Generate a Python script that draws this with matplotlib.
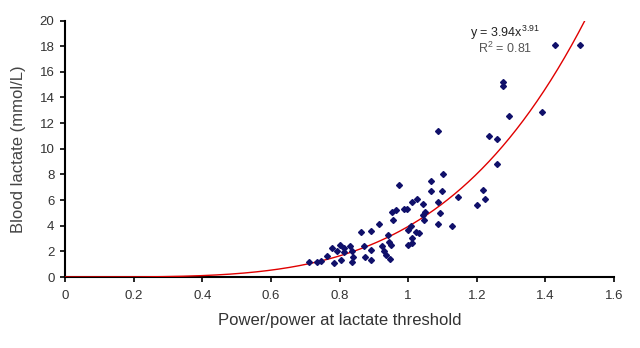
import numpy as np
import matplotlib
matplotlib.use("Agg")
import matplotlib.pyplot as plt

plt.rcParams['font.family'] = ['Liberation Sans', 'DejaVu Sans']
plt.rcParams['mathtext.fontset'] = 'custom'
plt.rcParams['mathtext.rm'] = 'Liberation Sans'
plt.rcParams['mathtext.it'] = 'Liberation Sans'

# Scatter data: power relative to lactate threshold vs blood lactate (mmol/L)
power_ratio = [
    0.711, 0.735, 0.746, 0.764, 0.778, 0.784, 0.793, 0.801, 0.804, 0.813,
    0.813, 0.830, 0.836, 0.839, 0.836, 0.862, 0.871, 0.874, 0.891, 0.891,
    0.891, 0.915, 0.923, 0.929, 0.935, 0.941, 0.944, 0.949, 0.947, 0.952,
    0.964, 0.955, 0.973, 0.987, 0.996, 0.999, 1.008, 0.999, 1.010, 1.010,
    1.010, 1.025, 1.022, 1.031, 1.042, 1.048, 1.042, 1.045, 1.066, 1.066,
    1.098, 1.086, 1.092, 1.086, 1.127, 1.144, 1.086, 1.103, 1.202, 1.217,
    1.225, 1.237, 1.260, 1.260, 1.275, 1.275, 1.295, 1.391, 1.429, 1.501,
]
lactate = [
    1.17, 1.17, 1.25, 1.63, 2.26, 1.09, 2.02, 2.49, 1.32, 2.26,
    1.95, 2.41, 2.02, 1.56, 1.17, 3.50, 2.41, 1.56, 2.10, 1.32,
    3.58, 4.12, 2.41, 2.02, 1.71, 3.27, 2.72, 2.49, 1.40, 5.06,
    5.21, 4.44, 7.16, 5.29, 5.29, 3.66, 3.97, 2.49, 2.65, 3.04,
    5.84, 6.07, 3.50, 3.42, 5.68, 5.06, 4.82, 4.44, 7.47, 6.69,
    6.69, 5.84, 4.98, 4.12, 3.97, 6.23, 11.36, 8.02, 5.60, 6.77,
    6.07, 10.97, 10.74, 8.79, 15.18, 14.86, 12.53, 12.84, 18.13, 18.13,
]

# Power-law trendline parameters shown on the chart
fit_a = 3.94
fit_b = 3.91
fit_r2 = 0.81

x_ticks = [0, 0.2, 0.4, 0.6, 0.8, 1, 1.2, 1.4, 1.6]
x_tick_labels = ['0', '0.2', '0.4', '0.6', '0.8', '1', '1.2', '1.4', '1.6']
y_ticks = [0, 2, 4, 6, 8, 10, 12, 14, 16, 18, 20]

fig = plt.figure(figsize=(6.4, 3.48), dpi=100)
ax = fig.add_axes([0.1016, 0.204, 0.8578, 0.737])

xs = np.linspace(0, 1.6, 400)
ys = fit_a * xs ** fit_b
ax.plot(xs, ys, color='#e00000', lw=1.0, zorder=4)

ax.plot(power_ratio, lactate, linestyle='none', marker='D', markersize=3.0,
        color='#10106a', zorder=5)

ax.set_xlim(0, 1.6)
ax.set_ylim(0, 20)
ax.set_xticks(x_ticks)
ax.set_xticklabels(x_tick_labels)
ax.set_yticks(y_ticks)

for s in ['top', 'right']:
    ax.spines[s].set_visible(False)
for s in ['left', 'bottom']:
    ax.spines[s].set_linewidth(1.5)
    ax.spines[s].set_color('black')

ax.tick_params(axis='both', direction='out', length=3.6, width=1.2,
               labelsize=9.5, labelcolor='#333333', color='black')
ax.tick_params(axis='x', pad=6)
ax.tick_params(axis='y', pad=4)

ax.set_xlabel('Power/power at lactate threshold', fontsize=12, color='#333333',
              labelpad=8)
ax.set_ylabel('Blood lactate (mmol/L)', fontsize=12, color='#444444',
              labelpad=10)

ax.text(1.283, 18.75, 'y = %.2fx$^{%.2f}$' % (fit_a, fit_b), ha='center',
        va='baseline', fontsize=9, color='#222222')
ax.text(1.283, 17.5, 'R$^{2}$ = %.2f' % fit_r2, ha='center', va='baseline',
        fontsize=9, color='#555555')

fig.savefig('out.png', dpi=100)
